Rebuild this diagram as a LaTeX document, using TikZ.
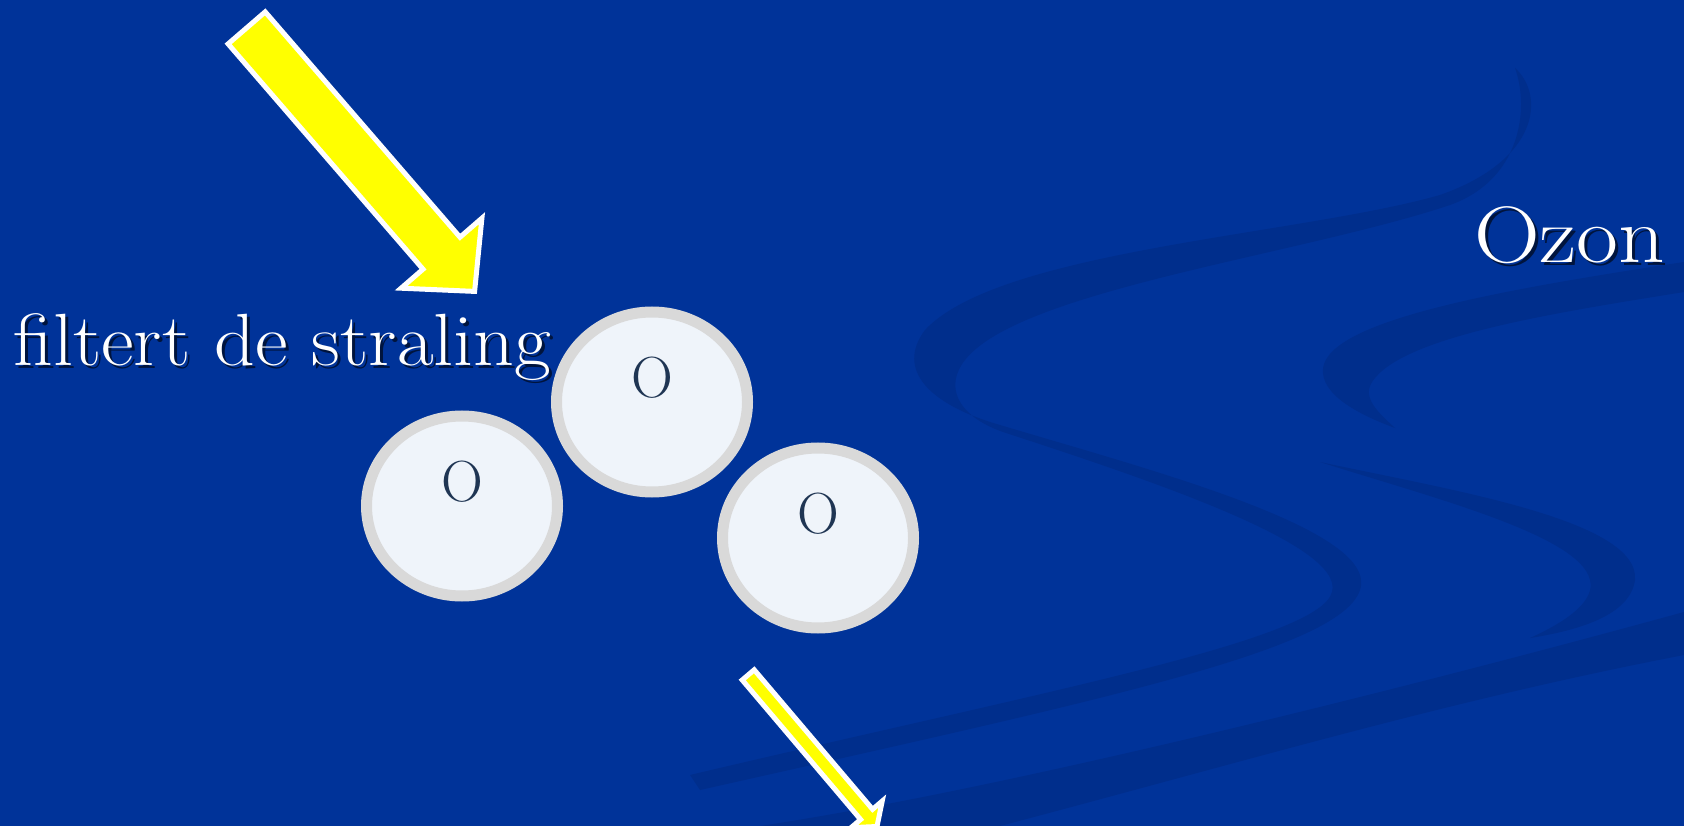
\documentclass[tikz,border=0pt]{standalone}
\usetikzlibrary{shapes.geometric}
\definecolor{bgblue}{RGB}{0,51,153}
\definecolor{swirlblue}{RGB}{0,46,140}
\definecolor{rayyellow}{RGB}{255,255,0}
\definecolor{ringgrey}{RGB}{217,217,217}
\definecolor{molfill}{RGB}{239,244,250}
\definecolor{atomnavy}{RGB}{31,53,83}
\tikzset{
  slidebg/.style={fill=bgblue},
  swirl/.style={fill=swirlblue},
  ray/.style={fill=rayyellow, draw=white, line width=5pt, line join=miter},
  molecule/.style={ellipse, draw=ringgrey, fill=molfill, line width=11pt,
    minimum width=191pt, minimum height=180pt, inner sep=0pt},
  atom/.style={text=atomnavy, font=\fontsize{58}{60}\selectfont, inner sep=0pt},
  caption/.style={text=white, inner sep=0pt, anchor=base west},
  captionshadow/.style={text=black, text opacity=0.6, inner sep=0pt, anchor=base west},
  bigfont/.style={font=\fontsize{74}{80}\selectfont, xscale=1.08},
  ozonfont/.style={font=\fontsize{80}{86}\selectfont, xscale=1.14}
}
\begin{document}
\begin{tikzpicture}[x=1pt,y=-1pt]
\useasboundingbox (0,0) rectangle (1684,826);
\fill[slidebg] (0,0) rectangle (1684,826);
\begin{scope}
\clip (0,0) rectangle (1684,826);
% background swirls
\fill[swirl] (1515,68) .. controls (1545,95) and (1540,160) .. (1440,195)
  .. controls (1300,235) and (1000,250) .. (925,330)
  .. controls (895,370) and (930,405) .. (1000,425)
  .. controls (1150,470) and (1380,530) .. (1360,590)
  .. controls (1340,650) and (1100,700) .. (700,790)
  -- (690,775) .. controls (1050,690) and (1320,640) .. (1332,592)
  .. controls (1345,545) and (1150,480) .. (1003,432)
  .. controls (955,415) and (945,385) .. (965,360)
  .. controls (1020,290) and (1300,255) .. (1450,205)
  .. controls (1520,180) and (1530,110) .. (1515,68) -- cycle;
\fill[swirl] (1684,262) .. controls (1500,290) and (1330,320) .. (1323,368)
  .. controls (1320,395) and (1360,415) .. (1395,428)
  .. controls (1375,410) and (1360,395) .. (1375,378)
  .. controls (1410,335) and (1560,312) .. (1684,292) -- cycle;
\fill[swirl] (1320,462) .. controls (1450,490) and (1640,520) .. (1635,580)
  .. controls (1630,615) and (1580,630) .. (1530,638)
  .. controls (1570,620) and (1595,600) .. (1590,580)
  .. controls (1580,535) and (1430,497) .. (1320,462) -- cycle;
\fill[swirl] (1684,612) .. controls (1400,690) and (1000,790) .. (760,826)
  -- (1000,826) .. controls (1250,760) and (1450,700) .. (1684,655) -- cycle;
% rays
\draw[ray] (265.2,11.9) -- (460.0,237.2) -- (481.9,218.2) -- (474.6,291.4)
  -- (401.1,288.2) -- (423.0,269.2) -- (228.1,43.9) -- cycle;
\draw[ray] (754.2,669.8) -- (872.6,809.3) -- (882.2,801.1) -- (877.0,826.5)
  -- (851.0,827.7) -- (860.6,819.5) -- (742.2,680.0) -- cycle;
\end{scope}
% captions
\node[captionshadow, bigfont] (filtshadow) at (16,368) {filtert de straling};
\node[caption, bigfont] (filt) at (13,365) {filtert de straling};
\node[captionshadow, ozonfont] (ozonshadow) at (1477,266) {Ozon};
\node[caption, ozonfont] (ozon) at (1474,263) {Ozon};
% molecule
\node[molecule] (m1) at (462,506) {};
\node[molecule] (m2) at (652,402) {};
\node[molecule] (m3) at (818,538) {};
\node[atom] (a1) at ([yshift=24pt]m1.center) {O};
\node[atom] (a2) at ([yshift=24pt]m2.center) {O};
\node[atom] (a3) at ([yshift=24pt]m3.center) {O};
\end{tikzpicture}
\end{document}
